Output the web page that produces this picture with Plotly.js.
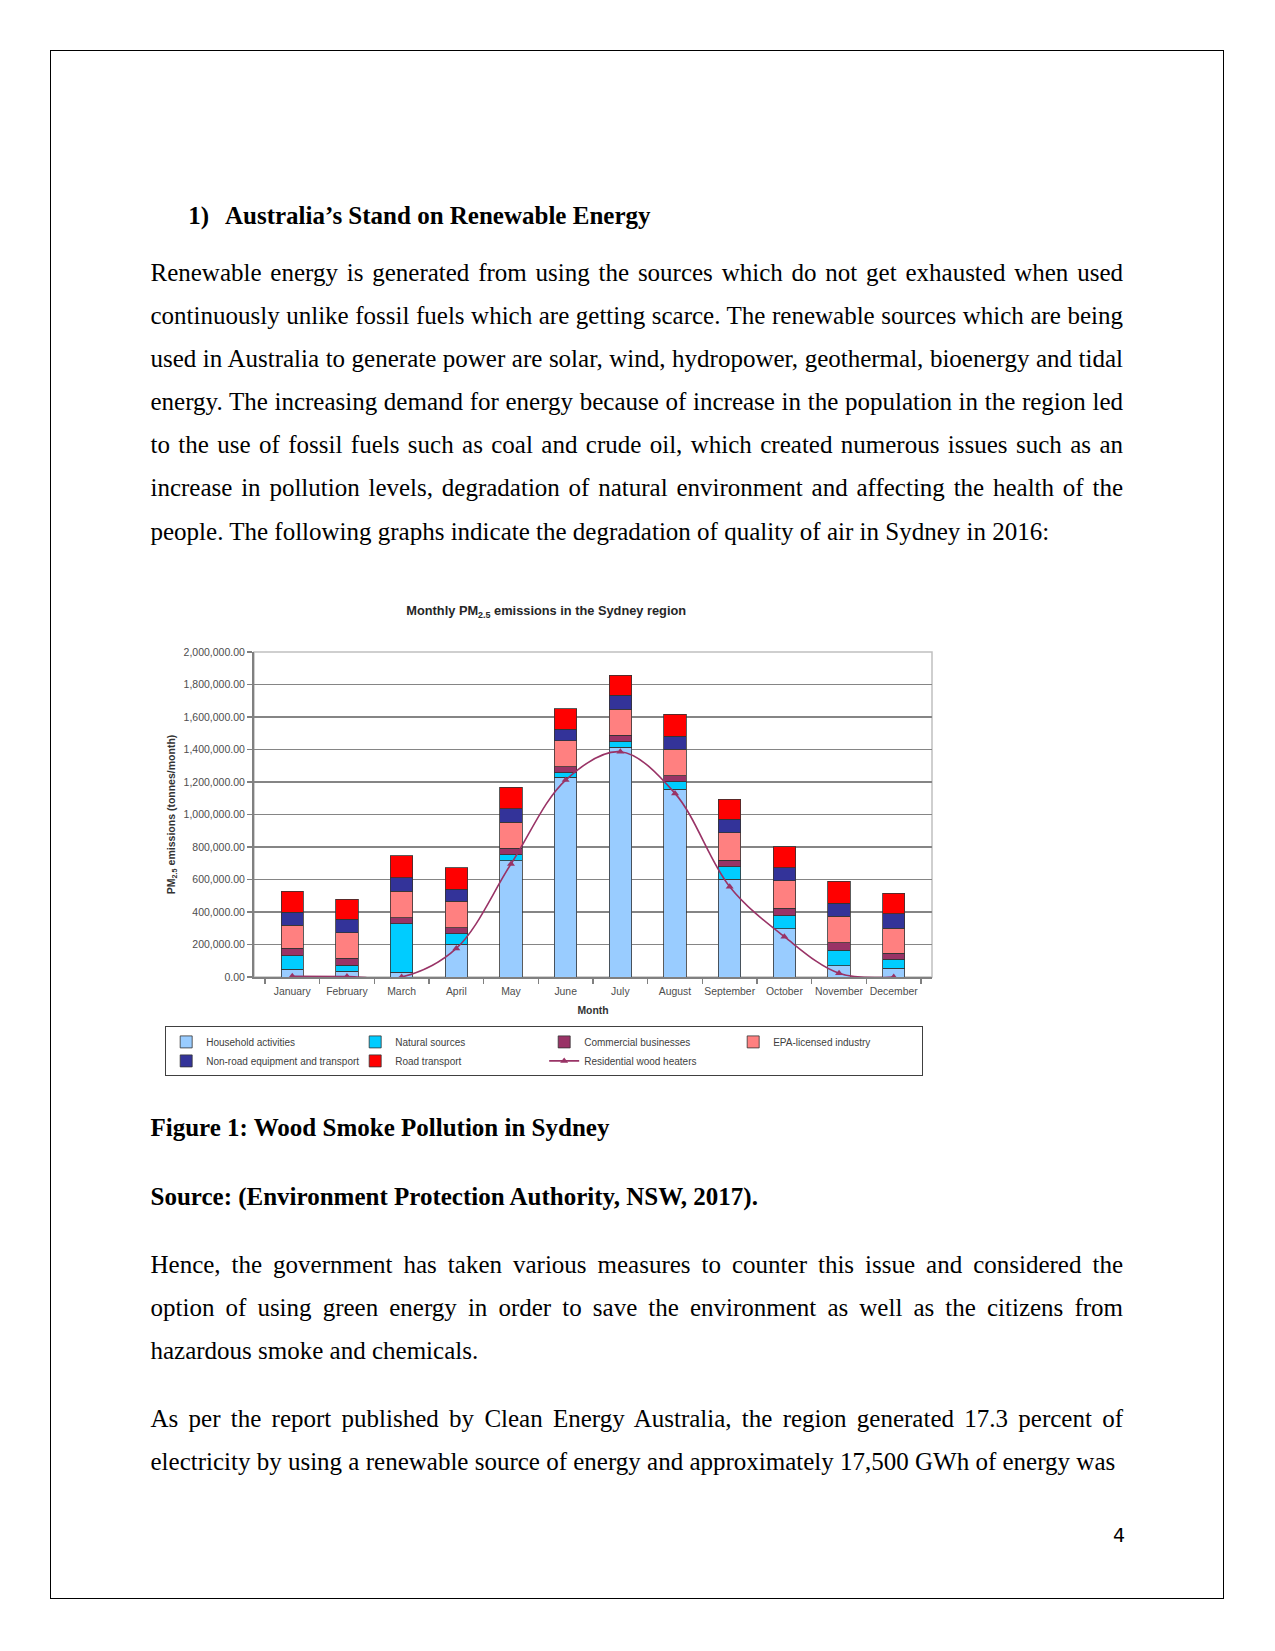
<!DOCTYPE html>
<html><head><meta charset="utf-8">
<script src="https://cdn.plot.ly/plotly-3.0.1.min.js"></script>
<style>
html,body{margin:0;padding:0;background:#fff;}
body{width:1275px;height:1651px;position:relative;overflow:hidden;font-family:"Liberation Serif","Times New Roman",serif;color:#000;}
#border{position:absolute;left:50px;top:50px;width:1172px;height:1547px;border:1.5px solid #000;}
.p{position:absolute;left:150.5px;width:972.5px;font-size:25px;line-height:43.1px;text-align:justify;margin:0;}
.b{font-weight:bold;}
#heading{position:absolute;top:193.5px;left:188.3px;font-size:25px;line-height:43.1px;font-weight:bold;white-space:nowrap;}
#heading span.n{display:inline-block;width:36.7px;}
#chart{position:absolute;left:153px;top:586px;width:795px;height:510px;}
#pnum{position:absolute;left:1113px;top:1522px;font-family:"DejaVu Sans",sans-serif;font-size:19px;line-height:26px;}
</style>
</head>
<body>
<div id="border"></div>
<div id="heading"><span class="n">1)</span>Australia’s Stand on Renewable Energy</div>
<p class="p" style="top:251px;">Renewable energy is generated from using the sources which do not get exhausted when used continuously unlike fossil fuels which are getting scarce. The renewable sources which are being used in Australia to generate power are solar, wind, hydropower, geothermal, bioenergy and tidal energy. The increasing demand for energy because of increase in the population in the region led to the use of fossil fuels such as coal and crude oil, which created numerous issues such as an increase in pollution levels, degradation of natural environment and affecting the health of the people. The following graphs indicate the degradation of quality of air in Sydney in 2016:</p>
<div id="chart"></div>
<p class="p b" style="top:1106px;">Figure 1: Wood Smoke Pollution in Sydney</p>
<p class="p b" style="top:1174.5px;">Source: (Environment Protection Authority, NSW, 2017).</p>
<p class="p" style="top:1242.5px;">Hence, the government has taken various measures to counter this issue and considered the option of using green energy in order to save the environment as well as the citizens from hazardous smoke and chemicals.</p>
<p class="p" style="top:1396.5px;">As per the report published by Clean Energy Australia, the region generated 17.3 percent of electricity by using a renewable source of energy and approximately 17,500 GWh of energy was</p>
<div id="pnum">4</div>
<script>
const months = ['January','February','March','April','May','June','July','August','September','October','November','December'];
const household  = [47000, 35000, 29000, 202000, 716000, 1229000, 1413000, 1155000, 601000, 297000, 68000, 53000];
const natural    = [84000, 38000, 300000, 65000, 35000, 28000, 35000, 47000, 78000, 80000, 98000, 56000];
const commercial = [45000, 41000, 36000, 37000, 41000, 37000, 39000, 37000, 41000, 45000, 45000, 37000];
const epa        = [142000, 157000, 162000, 161000, 160000, 160000, 160000, 164000, 168000, 171000, 164000, 153000];
const nonroad    = [82000, 84000, 83000, 76000, 82000, 72000, 86000, 80000, 82000, 78000, 78000, 89000];
const road       = [127000, 123000, 137000, 130000, 135000, 125000, 123000, 133000, 123000, 131000, 136000, 127000];
const woodHeaters= [5000, 3000, 0, 176000, 695000, 1212000, 1386000, 1130000, 556000, 248000, 23000, 0];
const yTickVals  = [0,200000,400000,600000,800000,1000000,1200000,1400000,1600000,1800000,2000000];

const barLine = {color:'#333333', width:0.8};
function bar(name, vals, color){
  return {type:'bar', name:name, x:months, y:vals, marker:{color:color, line:barLine}, hoverinfo:'skip'};
}
const traces = [
  bar('Household activities', household, '#99CCFF'),
  bar('Natural sources', natural, '#00CCFF'),
  bar('Commercial businesses', commercial, '#993366'),
  bar('EPA-licensed industry', epa, '#FF8080'),
  bar('Non-road equipment and transport', nonroad, '#333399'),
  bar('Road transport', road, '#FF0000'),
  {type:'scatter', mode:'lines+markers', name:'Residential wood heaters', x:months, y:woodHeaters,
   line:{color:'#993366', width:1.6, shape:'spline', smoothing:1}, marker:{symbol:'triangle-up', size:7, color:'#993366'}, hoverinfo:'skip'}
];

const layout = {
  width:795, height:510,
  margin:{l:101, r:16, t:66, b:119, pad:0},
  paper_bgcolor:'rgba(0,0,0,0)', plot_bgcolor:'#ffffff',
  barmode:'stack', bargap:0.59,
  font:{family:'"Liberation Sans", Arial, sans-serif', size:10, color:'#404040'},
  showlegend:true,
  title:{text:'<b>Monthly PM<sub>2.5</sub> emissions in the Sydney region</b>', font:{size:12.8, color:'#262626'},
         xref:'paper', x:0.431, xanchor:'center', yref:'container', y:1-25/510, yanchor:'middle'},
  xaxis:{type:'category', tickson:'boundaries', ticks:'outside', ticklen:5, tickcolor:'#808080', tickwidth:1.5,
         tickangle:0, ticklabelstandoff:4, showline:true, linecolor:'#808080', linewidth:2, showgrid:false, automargin:false,
         tickfont:{size:10.4, color:'#4d4d4d'},
         title:{text:'<b>Month</b>', font:{size:10.4, color:'#333333'}, standoff:10}},
  yaxis:{range:[0,2000000], tickvals:yTickVals, tickformat:',.2f', ticks:'outside', ticklen:5, tickcolor:'#808080', tickwidth:1.5,
         showline:true, linecolor:'#808080', linewidth:2, showgrid:true, gridcolor:'#858585', gridwidth:1.6, zeroline:false,
         automargin:false, tickfont:{size:10.5, color:'#4d4d4d'},
         title:{text:'<b>PM<sub>2.5</sub> emissions (tonnes/month)</b>', font:{size:10.5, color:'#333333'}, standoff:6}},
  legend:{orientation:'h', x:-0.131, xanchor:'left', y:-0.152, yanchor:'top', bordercolor:'#404040', borderwidth:1,
          bgcolor:'#ffffff', entrywidth:144, entrywidthmode:'pixels', font:{size:10, color:'#404040'},
          traceorder:'normal', tracegroupgap:0, itemwidth:30},
  shapes:[{type:'rect', xref:'paper', yref:'paper', x0:0, x1:1, y0:0, y1:1, line:{color:'#c0c0c0', width:1.5}, layer:'below'}]
};
Plotly.newPlot('chart', traces, layout, {displayModeBar:false, staticPlot:true});
</script>
</body></html>
